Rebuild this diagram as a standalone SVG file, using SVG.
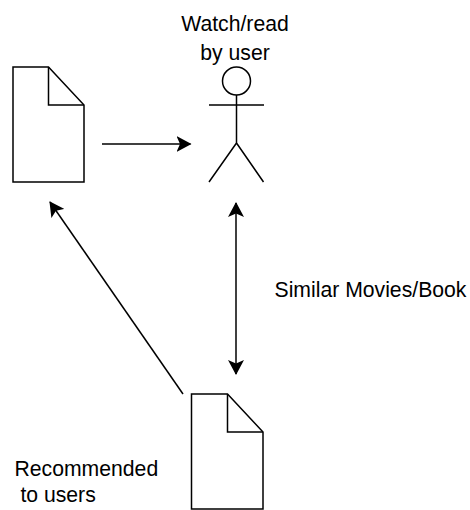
<svg xmlns="http://www.w3.org/2000/svg" width="470" height="510" viewBox="0 0 470 510">
<style>
.s{fill:none;stroke:#000;stroke-width:1.5}
.d{fill:#fff;stroke:#000;stroke-width:1.5}
text{font-family:"Liberation Sans",Arial,sans-serif;font-size:21.2px;fill:#000}
</style>
<defs>
<marker id="a" viewBox="0 0 15 16" refX="14" refY="8" markerWidth="15" markerHeight="16" markerUnits="userSpaceOnUse" orient="auto-start-reverse"><path d="M0 0L15 8L0 16L3.5 8Z" fill="#000"/></marker>
</defs>
<rect width="470" height="510" fill="#fff"/>
<g id="doc1"><path class="d" d="M13 67H48.5L84 105V182H13Z"/><path class="s" d="M48.500 67V105H84"/></g>
<g id="actor"><circle class="d" cx="236.500" cy="81" r="14"/><path class="s" d="M236.500 95V143M209 105H264M236.500 143L209 182M236.500 143L263.500 182"/></g>
<g id="doc2"><path class="d" d="M191.500 394H227.500L263 432V509H191.500Z"/><path class="s" d="M227.500 394V432H263"/></g>
<g id="connectors">
<path class="s" d="M102 144H190.500" marker-end="url(#a)"/>
<path class="s" d="M236 203V374" marker-start="url(#a)" marker-end="url(#a)"/>
<path class="s" d="M183 394L50 202" marker-end="url(#a)"/>
</g>
<g id="labels">
<text x="235" y="31" text-anchor="middle">Watch/read</text>
<text x="235" y="60" text-anchor="middle">by user</text>
<text x="274.500" y="297">Similar Movies/Book</text>
<text x="14.500" y="476">Recommended</text>
<text x="14.500" y="502" xml:space="preserve"> to users</text>
</g>
</svg>
